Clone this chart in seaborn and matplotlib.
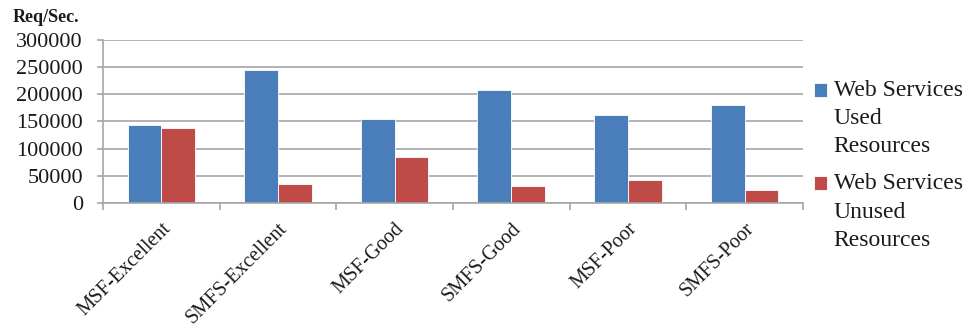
import pandas as pd
import numpy as np
import matplotlib
matplotlib.use("Agg")
import matplotlib.pyplot as plt
import matplotlib.transforms as mtransforms
import seaborn as sns

configs = ["MSF-Excellent", "SMFS-Excellent", "MSF-Good", "SMFS-Good", "MSF-Poor", "SMFS-Poor"]
used = [143500, 246000, 155500, 208500, 161500, 181000]
unused = [138000, 35000, 84500, 31000, 42500, 23000]
series_names = ["Web Services\nUsed\nResources", "Web Services\nUnused\nResources"]
colors = ["#4A7EBB", "#BE4B48"]

df = pd.DataFrame({
    "config": configs * 2,
    "value": used + unused,
    "series": [series_names[0]] * len(configs) + [series_names[1]] * len(configs),
})

sns.set_style("white")
plt.rcParams["font.family"] = ["Liberation Serif", "DejaVu Serif"]

fig = plt.figure(figsize=(9.64, 3.27), dpi=100)
ax = fig.add_axes([103 / 964, 1 - 202.7 / 327, 700 / 964, 162.4 / 327])

sns.barplot(data=df, x="config", y="value", hue="series", palette=colors,
            width=0.58, saturation=1, edgecolor="#ffffff", linewidth=0.6, ax=ax)

ax.set_xlim(-0.5, len(configs) - 0.5)
ax.set_ylim(0, 300000)
ax.set_yticks(np.arange(0, 300001, 50000))
ax.yaxis.grid(True, color="#a6a6a6", linewidth=1.2)
ax.set_axisbelow(True)
ax.set_xlabel("")
ax.set_ylabel("")

for s in ["top", "right"]:
    ax.spines[s].set_visible(False)
for s in ["left", "bottom"]:
    ax.spines[s].set_color("#a6a6a6")
    ax.spines[s].set_linewidth(1.2)

ax.tick_params(axis="y", left=True, length=4.5, width=1.2, color="#a6a6a6",
               labelsize=16, pad=10, labelcolor="#1a1a1a")
ax.set_xticks(np.arange(len(configs)))
ax.set_xticklabels(configs, rotation=45, ha="right", rotation_mode="anchor",
                   fontsize=14.5, color="#1a1a1a")
shift = mtransforms.ScaledTranslation(5 / 72, 0, fig.dpi_scale_trans)
for lbl in ax.get_xticklabels():
    lbl.set_transform(lbl.get_transform() + shift)
ax.tick_params(axis="x", which="major", length=0, pad=12)
ax.set_xticks(np.arange(-0.5, len(configs)), minor=True)
ax.tick_params(axis="x", which="minor", bottom=True, length=5, width=1.2, color="#a6a6a6")

fig.text(13 / 964, 1 - 21.7 / 327, "Req/Sec.", fontsize=13, fontweight="bold",
         color="#1a1a1a", ha="left", va="baseline")

leg = ax.legend(loc="upper left", bbox_to_anchor=(814 / 964, 1 - 80 / 327),
                bbox_transform=fig.transFigure, frameon=False, fontsize=17,
                handlelength=0.54, handleheight=0.54, handletextpad=0.3,
                labelspacing=0.68, borderaxespad=0, borderpad=0)
for t in leg.get_texts():
    t.set_linespacing(1.45)
    t.set_color("#1a1a1a")
# square beside the first line of each label
for h in leg.legend_handles:
    h.set_y(h.get_y() + 20.5)

fig.savefig("out.png", dpi=100)
